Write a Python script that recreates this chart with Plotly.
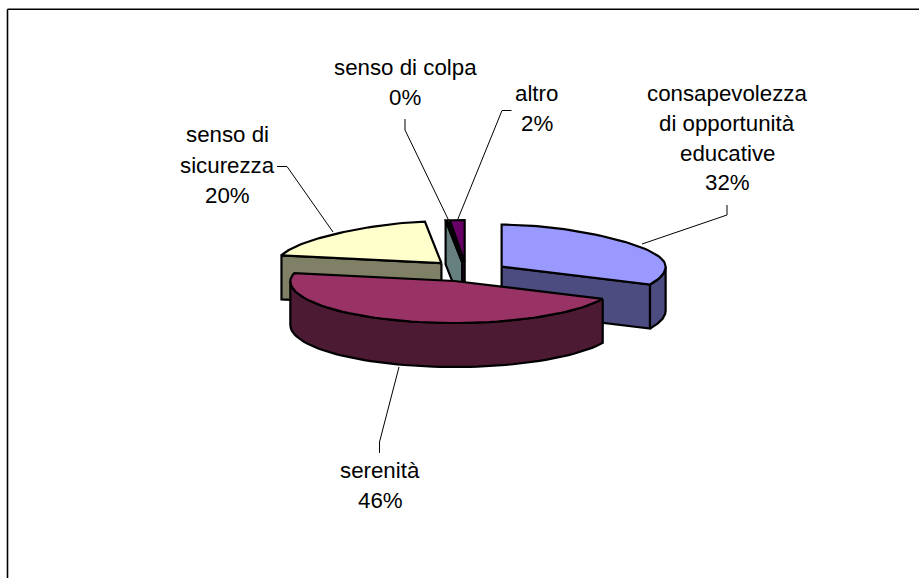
import math
import plotly.graph_objects as go

# ---- data ----
categories = ["consapevolezza di opportunità educative", "serenità", "senso di sicurezza", "senso di colpa", "altro"]
values = [32, 46, 20, 0.2, 1.8]
top_colors = ["#9999FF", "#993366", "#FFFFCC", "#CCFFFF", "#660066"]
side_colors = ["#4C4C80", "#4D1A33", "#808066", "#668080", "#330033"]
label_lines = [
    ["consapevolezza", "di opportunità", "educative"],
    ["serenità"],
    ["senso di", "sicurezza"],
    ["senso di colpa"],
    ["altro"],
]

# ---- pie projection ----
W, H = 919, 578
CX, CY = 467.0, 272.0
RX, RY = 164.0, 42.0
DEPTH = 44.0
EXPL_X, EXPL_Y = 41.0, 10.0
BACK_NARROW = 0.2
draw_order = [4, 3, 2, 0, 1]
nudge = [(0, 0), (0, -0.5), (2.5, -1.5), (0, 0), (0, 0)]

# label layout: centre x, first baseline y, line step
label_pos = [(727, 101, 29.8), (380, 478, 30.5), (227.5, 142.5, 30.2), (405, 75, 30), (536.5, 101, 30)]
leaders = [
    [(727, 205), (727, 215), (642, 244)],
    [(379.5, 453), (379.5, 442), (399, 367)],
    [(277, 166.5), (287, 166.5), (333, 232)],
    [(405, 119), (405, 130), (449, 221)],
    [(511.5, 110.5), (502, 110.5), (457.5, 220)],
]
FS = 22.3

total = sum(values)
fig = go.Figure()


def pt(cx, cy, a, dz=0.0):
    s, c = math.sin(a), math.cos(a)
    narrow = 1 - BACK_NARROW * c * c if c > 0 else 1.0
    return cx + RX * s * narrow, cy - RY * c + dz


def poly(points, fill):
    xs = [p[0] for p in points] + [points[0][0]]
    ys = [p[1] for p in points] + [points[0][1]]
    fig.add_trace(go.Scatter(x=xs, y=ys, mode="lines", fill="toself", fillcolor=fill,
                             line=dict(color="black", width=2.2), hoverinfo="skip", showlegend=False))


def arc(cx, cy, a, b, dz=0.0, n=60):
    return [pt(cx, cy, a + (b - a) * i / n, dz) for i in range(n + 1)]


angles = []
acc = 0.0
for v in values:
    a = acc / total * 2 * math.pi
    acc += v
    angles.append((a, acc / total * 2 * math.pi))

for i in draw_order:
    a, b = angles[i]
    mid = (a + b) / 2
    cx = CX + EXPL_X * math.sin(mid) + nudge[i][0]
    cy = CY - EXPL_Y * math.cos(mid) + nudge[i][1]
    apex = (cx, cy)
    apex_low = (cx, cy + DEPTH)
    # radial faces turned to the viewer
    if math.sin(a) < 0:
        p, q = pt(cx, cy, a), pt(cx, cy, a, DEPTH)
        poly([apex, p, q, apex_low], side_colors[i])
    if math.sin(b) > 0:
        p, q = pt(cx, cy, b), pt(cx, cy, b, DEPTH)
        poly([apex, p, q, apex_low], side_colors[i])
    # front part of the rim
    lo, hi = max(a, math.pi / 2), min(b, 3 * math.pi / 2)
    if lo < hi:
        poly(arc(cx, cy, lo, hi) + arc(cx, cy, hi, lo, DEPTH), side_colors[i])
    # top face
    poly([apex] + arc(cx, cy, a, b), top_colors[i])

for path in leaders:
    fig.add_trace(go.Scatter(x=[p[0] for p in path], y=[p[1] for p in path], mode="lines",
                             line=dict(color="black", width=1), hoverinfo="skip", showlegend=False))

annotations = []
for i, lines in enumerate(label_lines):
    pct = f"{round(values[i] / total * 100)}%"
    x0, y0, step = label_pos[i]
    for k, t in enumerate(lines + [pct]):
        annotations.append(dict(x=x0, y=y0 + k * step - FS * 0.34, text=t, showarrow=False,
                                xanchor="center", yanchor="middle", xref="x", yref="y",
                                font=dict(family="Liberation Sans, Arial, sans-serif", size=FS, color="black")))

frame = [
    dict(type="line", x0=7.5, x1=W, y0=9.3, y1=9.3, xref="x", yref="y", line=dict(color="black", width=1.6)),
    dict(type="line", x0=7.5, x1=7.5, y0=9.3, y1=H, xref="x", yref="y", line=dict(color="black", width=1.6)),
]

fig.update_layout(
    width=W, height=H, margin=dict(l=0, r=0, t=0, b=0),
    paper_bgcolor="white", plot_bgcolor="white", showlegend=False,
    xaxis=dict(range=[0, W], visible=False, fixedrange=True),
    yaxis=dict(range=[H, 0], visible=False, fixedrange=True),
    annotations=annotations, shapes=frame,
)
fig.write_html("out.html", config={"displayModeBar": False},
               post_script="document.body.style.margin='0';document.body.style.overflow='hidden';")
